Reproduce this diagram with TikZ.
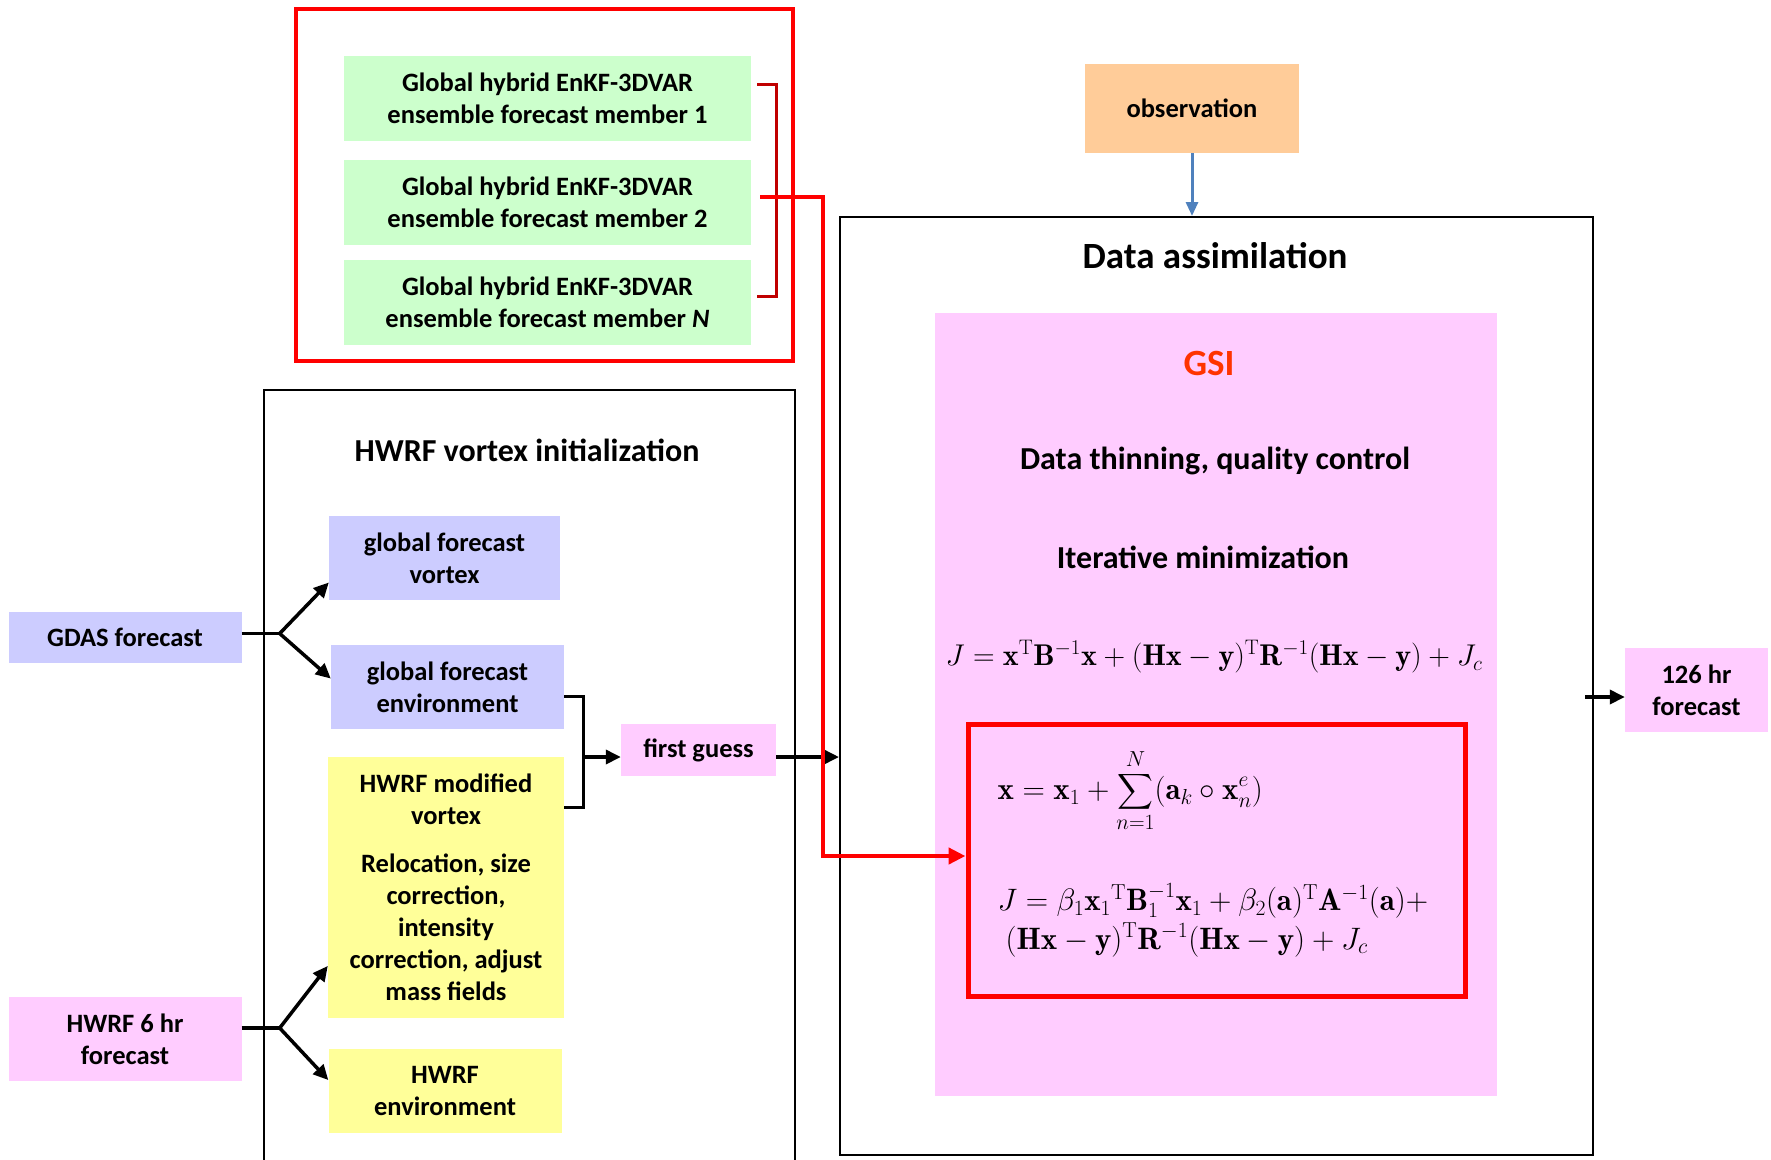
\RequirePackage{fix-cm}
\documentclass[tikz,border=0pt]{standalone}
\usepackage{fontspec}
\usepackage{amsmath}
\usetikzlibrary{arrows.meta,calc}

\newfontfamily\calibri{Carlito}
\newcommand\boxfont{\calibri\bfseries\fontsize{26.5}{32}\selectfont}
\newcommand\headfont{\calibri\bfseries\fontsize{32}{38}\selectfont}
\newcommand\titlefont{\calibri\bfseries\fontsize{37}{44}\selectfont}
\newcommand\eqfont{\fontsize{30}{36}\selectfont}
\newcommand\hybfont{\fontsize{31}{38}\selectfont}

\definecolor{ensgreen}{HTML}{CCFFCC}
\definecolor{obsorange}{HTML}{FFCC99}
\definecolor{gdasblue}{HTML}{CCCCFF}
\definecolor{hwrfpink}{HTML}{FFCCFF}
\definecolor{vortexyellow}{HTML}{FFFF99}
\definecolor{gsired}{HTML}{FF3300}
\definecolor{obsblue}{HTML}{4F81BD}
\definecolor{bracketred}{HTML}{C00000}

\begin{document}
\begin{tikzpicture}[x=1pt, y=-1pt,
		box/.style={inner sep=0pt, align=center, font=\boxfont},
		arr/.style={line width=3.5pt, -{Triangle[length=15pt, width=14pt]}},
		brk/.style={line width=3pt},
		redarr/.style={red, line width=4.5pt, -{Triangle[length=17pt, width=16pt]}},
		blackframe/.style={line width=2pt}]
			%%%%% START %%%%%
			\useasboundingbox (0,0) rectangle (1771,1159);
			
			% ensemble members
			\draw[red, line width=4.5pt] (296,9) rectangle (793,361);
			\node[box, fill=ensgreen, minimum width=407pt, minimum height=85pt] (ens1) at (547.5,98.5) {Global hybrid EnKF-3DVAR\\ensemble forecast member 1};
			\node[box, fill=ensgreen, minimum width=407pt, minimum height=85pt] (ens2) at (547.5,202.5) {Global hybrid EnKF-3DVAR\\ensemble forecast member 2};
			\node[box, fill=ensgreen, minimum width=407pt, minimum height=85pt] (ensN) at (547.5,302.5) {Global hybrid EnKF-3DVAR\\ensemble forecast member \textit{N}};
			\draw[bracketred, brk] ([xshift=6pt,yshift=14pt]ens1.east) -- ++(19,0) |- ([xshift=6pt,yshift=6pt]ensN.east);
			
			% data assimilation
			\node[box, fill=obsorange, minimum width=214pt, minimum height=89pt, text depth=-4pt] (obs) at (1192,108.5) {observation};
			\node[blackframe, draw, minimum width=753pt, minimum height=938pt] (da) at (1216.5,686) {};
			\node[font=\titlefont] (datitle) at (1215,256) {Data assimilation};
			\node[fill=hwrfpink, minimum width=562pt, minimum height=783pt] (gsi) at (1216,704.5) {};
			\node[font=\titlefont, text=gsired] (gsititle) at (1209,363) {GSI};
			\node[font=\headfont] (thinning) at (1215,461) {Data thinning, quality control};
			\node[font=\headfont] (itermin) at (1203,557) {Iterative minimization};
			\node[font=\eqfont] (costfn) at (1214,657) {$J=\mathbf{x}^{\mathrm{T}}\mathbf{B}^{-1}\mathbf{x}+(\mathbf{Hx}-\mathbf{y})^{\mathrm{T}}\mathbf{R}^{-1}(\mathbf{Hx}-\mathbf{y})+J_c$};
			\node[draw=red, line width=5pt, minimum width=497pt, minimum height=272pt] (eqbox) at (1216.5,860) {};
			\node[font=\hybfont, anchor=west] (hybridx) at (994,791) {$\displaystyle\mathbf{x}=\mathbf{x}_1+\sum_{n=1}^{N}(\mathbf{a}_k\circ\mathbf{x}_n^e)$};
			\node[font=\hybfont, anchor=west] (hybridj) at (994,901) {$J=\beta_1\mathbf{x}_1{}^{\mathrm{T}}\mathbf{B}_1^{-1}\mathbf{x}_1+\beta_2(\mathbf{a})^{\mathrm{T}}\mathbf{A}^{-1}(\mathbf{a})+$};
			\node[font=\hybfont, anchor=west] (hybridjb) at (1002,940) {$(\mathbf{Hx}-\mathbf{y})^{\mathrm{T}}\mathbf{R}^{-1}(\mathbf{Hx}-\mathbf{y})+J_c$};
			\node[box, fill=hwrfpink, minimum width=143pt, minimum height=84pt] (fcst126) at (1696.5,690) {126 hr\\forecast};
			
			% vortex initialization
			\draw[blackframe] (264,1175) |- (795,390) -- (795,1175);
			\node[font=\headfont] (vortextitle) at (527,450) {HWRF vortex initialization};
			\node[box, fill=gdasblue, minimum width=233pt, minimum height=51pt] (gdas) at (125,637.5) {GDAS forecast};
			\node[box, fill=hwrfpink, minimum width=233pt, minimum height=84pt] (hwrf6) at (125,1039) {HWRF 6 hr\\forecast};
			\node[box, fill=gdasblue, minimum width=231pt, minimum height=84pt] (gfvortex) at (444.5,558) {global forecast\\vortex};
			\node[box, fill=gdasblue, minimum width=233pt, minimum height=84pt] (gfenv) at (447.5,687) {global forecast\\environment};
			\node[box, fill=vortexyellow, minimum width=236pt, minimum height=261pt] (modvortex) at (446,887.5) {HWRF modified\\vortex\\[16pt]Relocation, size\\correction,\\intensity\\correction, adjust\\mass fields};
			\node[box, fill=vortexyellow, minimum width=233pt, minimum height=84pt] (hwrfenv) at (445,1091) {HWRF\\environment};
			\node[box, fill=hwrfpink, minimum width=155pt, minimum height=52pt] (firstguess) at (698.5,750) {first guess};
			
			% connectors
			\draw[line width=3.5pt] ([yshift=4pt]gdas.east) -- ++(38,0) coordinate (gdasfork);
			\draw[arr] (gdasfork) -- ($(gfvortex.south west)!0.21!(gfvortex.north west)$);
			\draw[arr] (gdasfork) -- ($(gfenv.north west)!0.4!(gfenv.south west)$);
			\draw[line width=3.5pt] ([yshift=11pt]hwrf6.east) -- ++(38,0) coordinate (hwrffork);
			\draw[arr] (hwrffork) -- ($(modvortex.south west)!0.2!(modvortex.north west)$);
			\draw[arr] (hwrffork) -- ($(hwrfenv.north west)!0.37!(hwrfenv.south west)$);
			\draw[brk] ([yshift=-9pt]gfenv.east) -| ($(modvortex.north east)+(19,51)$) -- ($(modvortex.north east)+(0,51)$);
			\draw[arr] ([yshift=-7pt]firstguess.west -| 583,0) -- ([yshift=-7pt]firstguess.west);
			\draw[arr] ([yshift=-7pt]firstguess.east) -- ([yshift=-7pt]firstguess.east -| da.west);
			\draw[obsblue, line width=3pt, -{Triangle[length=14pt, width=12pt]}] (obs.south) -- (obs.south |- da.north);
			\coordinate (outtap) at (1585,697);
			\draw[arr] (outtap) -- (fcst126.west |- outtap);
			\coordinate (enscorner) at (823,197);
			\draw[redarr, shorten <=9pt] ([yshift=5.5pt]ens2.east) -- (enscorner) |- ([yshift=4pt]eqbox.west);
			
			%%%%% END %%%%%
\end{tikzpicture}
\end{document}
